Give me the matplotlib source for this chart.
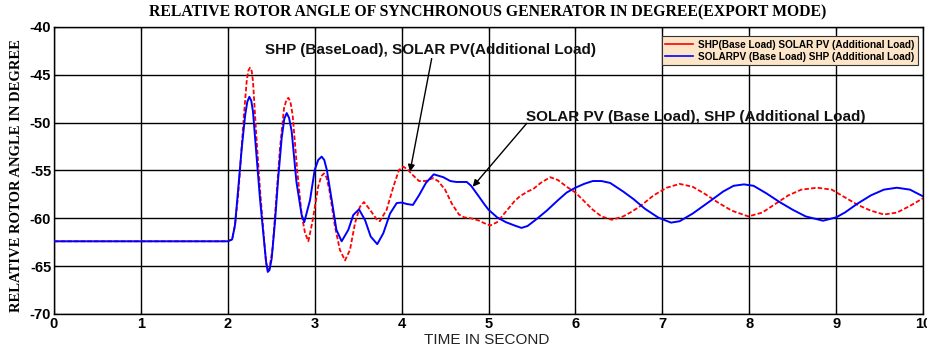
import matplotlib
matplotlib.use("Agg")
import matplotlib.pyplot as plt

plt.rcParams["axes.unicode_minus"] = False

# ---- data ----
t_red = [0, 2.0, 2.05, 2.083, 2.12, 2.15, 2.18, 2.217, 2.235, 2.255, 2.275, 2.29, 2.33,
         2.37, 2.41, 2.44, 2.46, 2.48, 2.516, 2.56, 2.60, 2.647, 2.675, 2.697, 2.72,
         2.746, 2.80, 2.85, 2.888, 2.927, 2.977, 3.04, 3.075, 3.107, 3.135, 3.168, 3.234,
         3.29, 3.349, 3.406, 3.464, 3.52, 3.567, 3.636, 3.72, 3.75, 3.828, 3.905, 3.97,
         4.02, 4.07, 4.12, 4.2, 4.28, 4.36, 4.42, 4.5, 4.58, 4.66, 4.72, 4.8, 4.88, 4.95,
         5.02, 5.1, 5.2, 5.3, 5.36, 5.45, 5.52, 5.6, 5.71, 5.8, 5.9, 6.0, 6.1, 6.2, 6.3,
         6.42, 6.55, 6.65, 6.75, 6.9, 7.05, 7.2, 7.35, 7.5, 7.65, 7.8, 7.99, 8.15, 8.3,
         8.45, 8.6, 8.78, 8.95, 9.1, 9.25, 9.4, 9.55, 9.7, 9.85, 10.0]
y_red = [-62.4, -62.4, -62.2, -60.7, -57.5, -53.8, -49.9, -45.7, -44.6, -44.25, -44.6,
         -45.7, -51.6, -56.9, -61.4, -64.6, -65.4, -65.2, -63.1, -57.6, -52.7, -48.5,
         -47.6, -47.4, -47.8, -49.2, -55.1, -59.65, -61.5, -62.4, -60.2, -56.7, -55.6,
         -55.3, -55.7, -57.0, -60.9, -63.3, -64.4, -63.3, -60.5, -58.8, -58.3, -59.1,
         -60.2, -60.3, -59.1, -56.7, -54.95, -54.6, -54.9, -55.4, -56.1, -56.1, -55.8,
         -56.1, -57.0, -58.5, -59.6, -59.9, -60.0, -60.2, -60.5, -60.75, -60.4, -59.3,
         -58.2, -57.7, -57.2, -56.9, -56.3, -55.7, -56.0, -56.7, -57.3, -58.2, -59.1,
         -59.8, -60.15, -59.8, -59.3, -58.7, -57.6, -56.8, -56.4, -56.7, -57.5, -58.4,
         -59.2, -59.8, -59.4, -58.5, -57.6, -57.0, -56.8, -57.0, -57.8, -58.6, -59.2,
         -59.6, -59.4, -58.7, -57.9]

t_blue = [0, 2.0, 2.05, 2.083, 2.12, 2.16, 2.20, 2.225, 2.248, 2.27, 2.29, 2.33, 2.37,
          2.41, 2.44, 2.46, 2.48, 2.505, 2.543, 2.58, 2.62, 2.65, 2.678, 2.705, 2.735,
          2.79, 2.85, 2.88, 2.946, 3.0, 3.04, 3.08, 3.11, 3.14, 3.196, 3.25, 3.31, 3.387,
          3.444, 3.51, 3.58, 3.644, 3.72, 3.79, 3.867, 3.944, 4.0, 4.06, 4.13, 4.2, 4.28,
          4.37, 4.48, 4.56, 4.63, 4.7, 4.75, 4.8, 4.88, 4.95, 5.0, 5.1, 5.2, 5.3, 5.38,
          5.45, 5.55, 5.67, 5.8, 5.9, 6.0, 6.1, 6.2, 6.3, 6.4, 6.55, 6.67, 6.8, 6.95,
          7.1, 7.2, 7.35, 7.55, 7.7, 7.82, 7.94, 8.05, 8.2, 8.35, 8.5, 8.65, 8.85, 9.0,
          9.1, 9.24, 9.4, 9.55, 9.7, 9.85, 10.0]
y_blue = [-62.4, -62.4, -62.2, -60.7, -56.9, -52.7, -49.2, -47.8, -47.3, -47.7, -48.85,
          -53.4, -57.9, -61.7, -64.5, -65.6, -65.4, -64.2, -60.35, -55.8, -51.6, -49.6,
          -49.0, -49.5, -50.9, -56.2, -59.65, -60.4, -58.1, -54.95, -53.9, -53.55, -53.9,
          -54.95, -58.1, -61.2, -62.4, -61.2, -59.65, -59.06, -60.2, -61.9, -62.7,
          -61.55, -59.5, -58.4, -58.35, -58.5, -58.6, -57.6, -56.3, -55.4, -55.7, -56.1,
          -56.2, -56.2, -56.2, -56.6, -57.6, -58.5, -59.1, -59.9, -60.4, -60.75, -61.0,
          -60.8, -60.1, -59.2, -58.1, -57.3, -56.8, -56.4, -56.1, -56.1, -56.3, -57.2,
          -58.0, -59.0, -59.9, -60.45, -60.3, -59.5, -58.2, -57.2, -56.6, -56.45, -56.6,
          -57.4, -58.3, -59.1, -59.8, -60.25, -59.9, -59.4, -58.5, -57.6, -57.0, -56.8,
          -57.0, -57.7]

x_ticks = list(range(0, 11))
y_ticks = [-70, -65, -60, -55, -50, -45, -40]

title = "RELATIVE ROTOR ANGLE OF SYNCHRONOUS GENERATOR IN DEGREE(EXPORT MODE)"
xlabel = "TIME IN SECOND"
ylabel = "RELATIVE ROTOR ANGLE IN DEGREE"
legend_labels = ["SHP(Base Load) SOLAR PV (Additional Load)",
                 "SOLARPV (Base Load) SHP (Additional Load)"]
note1 = "SHP (BaseLoad), SOLAR PV(Additional Load)"
note2 = "SOLAR PV (Base Load), SHP (Additional Load)"

# ---- figure ----
fig = plt.figure(figsize=(9.27, 3.52), dpi=100)
ax = fig.add_axes([54/927, 1-314/352, 869/927, 287/352])

ax.plot(t_red, y_red, color="red", linestyle=(0, (2.5, 1.2)), linewidth=1.3,
        label=legend_labels[0], zorder=3)
ax.plot(t_blue, y_blue, color="blue", linestyle="-", linewidth=1.4,
        label=legend_labels[1], zorder=4)

ax.set_xlim(0, 10)
ax.set_ylim(-70, -40)
ax.set_xticks(x_ticks)
ax.set_yticks(y_ticks)
ax.grid(True, color="black", linewidth=1.0, linestyle="-")
ax.set_axisbelow(True)
ax.tick_params(direction="in", length=3, top=True, right=True, pad=2,
               labelsize=10.5)
for lab in ax.get_xticklabels() + ax.get_yticklabels():
    lab.set_fontfamily("Liberation Sans")
    lab.set_fontweight("bold")
for s in ax.spines.values():
    s.set_color("black")
    s.set_linewidth(1.0)

fig.text(487.5/927, 0.965, title, ha="center", va="center",
         family="Liberation Serif", fontweight="bold", fontsize=11.3)
fig.text(0.018, 0.5, ylabel, ha="center", va="center", rotation=90,
         family="Liberation Serif", fontweight="bold", fontsize=10.5)
fig.text(487/927, 1-340/352, xlabel, ha="center", va="center",
         family="Liberation Sans", fontsize=11, color="#222222")

leg = ax.legend(loc="upper right", bbox_to_anchor=(1.0, 0.985),
                prop={"family": "Liberation Sans", "weight": "bold", "size": 7.2},
                handlelength=2.8, handletextpad=0.5, borderpad=0.35,
                labelspacing=0.2, fancybox=False, framealpha=1)
leg.get_frame().set_facecolor("#FCE5C8")
leg.get_frame().set_edgecolor("#333333")
leg.get_frame().set_linewidth(0.8)
for ln in leg.get_lines():
    ln.set_linestyle("-")
    ln.set_linewidth(1.2)

ax.text(4.33, -42.45, note1, ha="center", va="center", family="Liberation Sans",
        fontweight="bold", fontsize=11, color="#111111")
ax.text(7.39, -49.4, note2, ha="center", va="center", family="Liberation Sans",
        fontweight="bold", fontsize=11, color="#111111")
arrow = dict(arrowstyle="-|>", color="black", lw=1.0, mutation_scale=10,
             shrinkA=0, shrinkB=0)
ax.annotate("", xy=(4.097, -55.12), xytext=(4.346, -43.3), arrowprops=arrow)
ax.annotate("", xy=(4.818, -56.7), xytext=(5.44, -50.07), arrowprops=arrow)

fig.savefig("out.png", dpi=100)
